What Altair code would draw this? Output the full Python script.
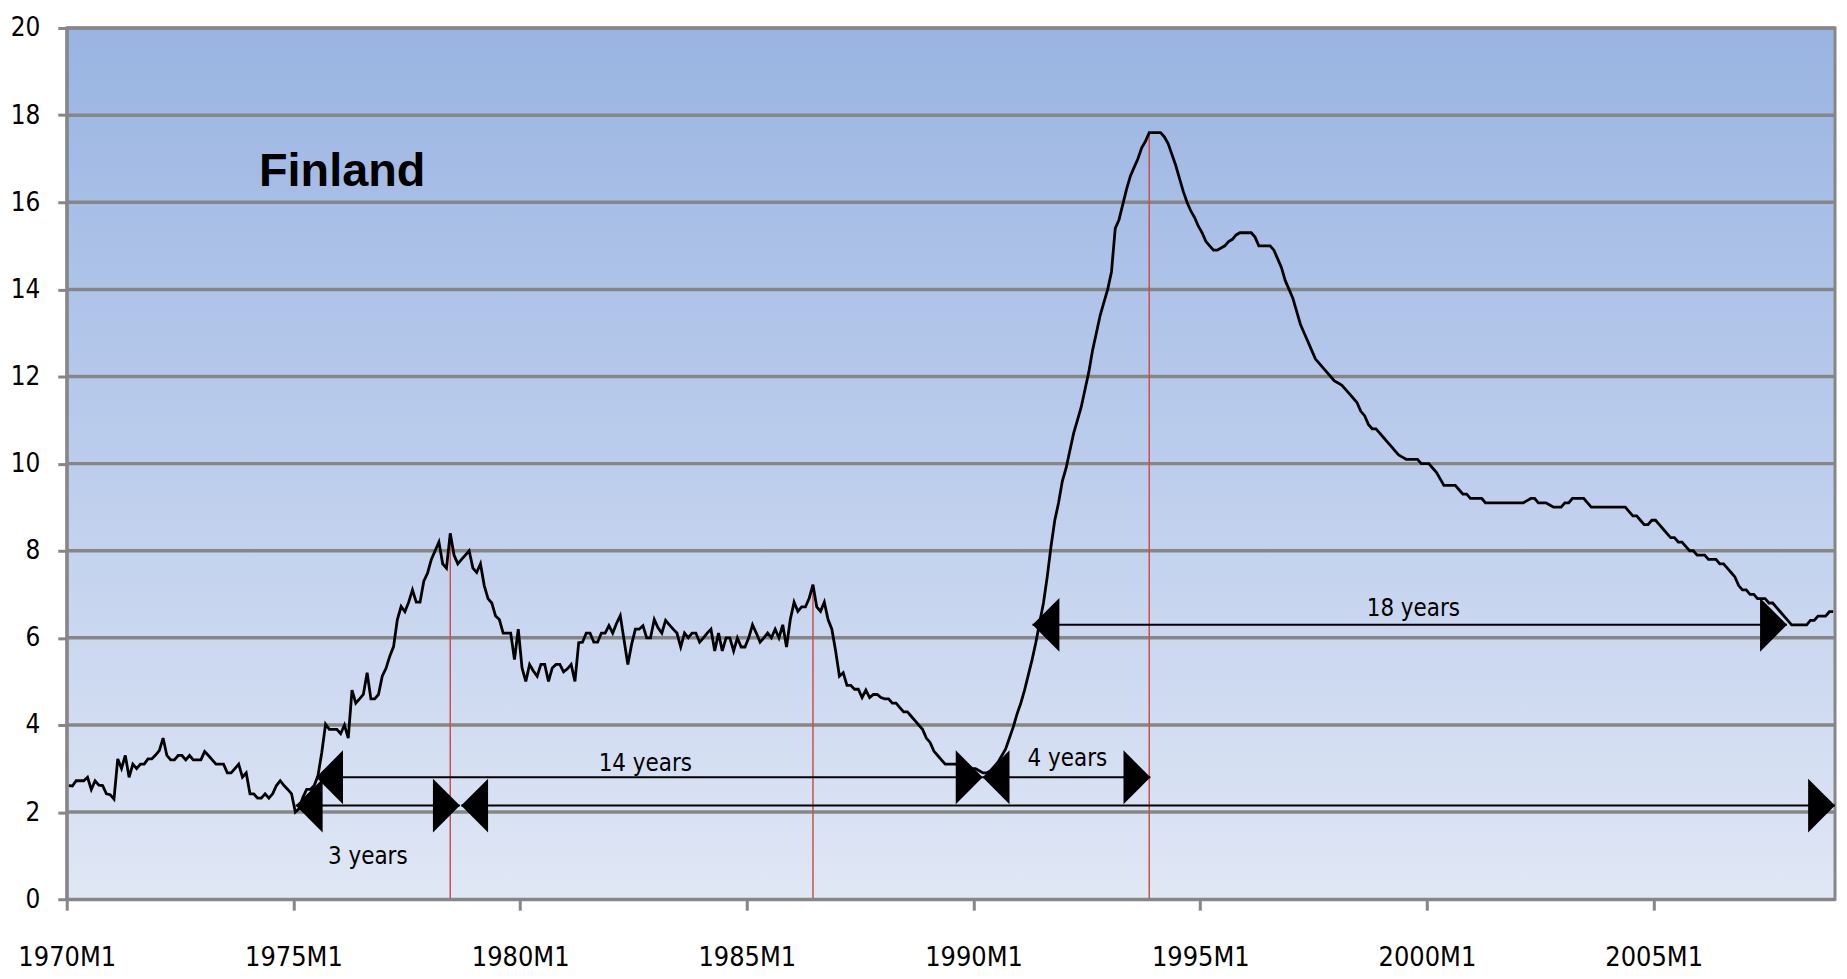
import altair as alt
import pandas as pd

# ---------------- data ----------------
rate_1970s = [
    2.61, 2.6, 2.72, 2.72, 2.72, 2.8, 2.52, 2.72, 2.62, 2.61, 2.42, 2.4,
    2.3, 3.22, 3.0, 3.3, 2.8, 3.1, 3.0, 3.1, 3.1, 3.22, 3.22, 3.31,
    3.41, 3.7, 3.3, 3.2, 3.2, 3.3, 3.3, 3.2, 3.3, 3.2, 3.2, 3.2,
    3.39, 3.3, 3.2, 3.1, 3.1, 3.1, 2.9, 2.9, 3.0, 3.1, 2.8, 2.9,
    2.42, 2.42, 2.32, 2.32, 2.42, 2.32, 2.42, 2.61, 2.72, 2.61, 2.52, 2.42,
    2.0, 2.08, 2.34, 2.52, 2.52, 2.61, 2.84, 3.37, 4.02, 3.9, 3.9, 3.9,
    3.8, 4.0, 3.7, 4.8, 4.5, 4.6, 4.7, 5.2, 4.6, 4.6, 4.7, 5.12,
    5.3, 5.58, 5.8, 6.42, 6.72, 6.6, 6.82, 7.1, 6.82, 6.82, 7.3, 7.49,
    7.8, 8.0, 8.2, 7.7, 7.6, 8.4, 7.9, 7.7, 7.8, 7.9, 8.0, 7.6,
    7.5, 7.7, 7.2, 6.9, 6.8, 6.5, 6.42, 6.11, 6.11, 6.11, 5.5, 6.2,
]
rate_1980s = [
    5.31, 5.0, 5.39, 5.24, 5.12, 5.39, 5.39, 5.0, 5.31, 5.39, 5.39, 5.22,
    5.29, 5.39, 5.0, 5.89, 5.9, 6.11, 6.11, 5.9, 5.9, 6.11, 6.11, 6.28,
    6.11, 6.33, 6.51, 5.95, 5.39, 5.85, 6.2, 6.2, 6.28, 6.0, 6.0, 6.42,
    6.23, 6.11, 6.4, 6.3, 6.2, 6.11, 5.79, 6.11, 6.0, 6.11, 6.11, 5.9,
    6.0, 6.11, 6.2, 5.7, 6.11, 5.7, 6.0, 6.0, 5.7, 6.0, 5.79, 5.79,
    6.0, 6.3, 6.11, 5.9, 6.0, 6.11, 6.0, 6.2, 6.0, 6.3, 5.79, 6.42,
    6.82, 6.61, 6.71, 6.71, 6.91, 7.22, 6.71, 6.61, 6.82, 6.42, 6.2, 5.7,
    5.12, 5.2, 4.91, 4.91, 4.82, 4.82, 4.63, 4.8, 4.63, 4.7, 4.7, 4.63,
    4.6, 4.6, 4.5, 4.5, 4.4, 4.3, 4.3, 4.2, 4.1, 4.0, 3.9, 3.7,
    3.6, 3.4, 3.3, 3.2, 3.1, 3.1, 3.1, 3.1, 3.1, 3.1, 3.05, 3.0,
]
rate_1990s = [
    3.0, 2.95, 2.9, 2.9, 2.95, 3.05, 3.15, 3.3, 3.45, 3.7, 3.95, 4.25,
    4.5, 4.8, 5.15, 5.5, 5.9, 6.35, 6.8, 7.4, 8.1, 8.7, 9.1, 9.6,
    9.9, 10.3, 10.7, 11.0, 11.3, 11.7, 12.1, 12.6, 13.0, 13.4, 13.7, 14.0,
    14.4, 15.4, 15.6, 15.95, 16.3, 16.6, 16.8, 17.0, 17.25, 17.4, 17.6, 17.6,
    17.6, 17.6, 17.5, 17.35, 17.1, 16.85, 16.55, 16.25, 16.0, 15.8, 15.65, 15.45,
    15.3, 15.1, 15.0, 14.9, 14.9, 14.95, 15.0, 15.1, 15.15, 15.25, 15.3, 15.3,
    15.3, 15.3, 15.2, 15.0, 15.0, 15.0, 15.0, 14.9, 14.7, 14.5, 14.2, 14.0,
    13.8, 13.5, 13.2, 13.0, 12.8, 12.6, 12.4, 12.3, 12.2, 12.1, 12.0, 11.9,
    11.85, 11.8, 11.7, 11.6, 11.5, 11.4, 11.2, 11.1, 10.9, 10.8, 10.8, 10.7,
    10.6, 10.5, 10.4, 10.3, 10.2, 10.15, 10.1, 10.1, 10.1, 10.1, 10.0, 10.0,
]
rate_2000s = [
    10.0, 9.9, 9.8, 9.65, 9.5, 9.5, 9.5, 9.5, 9.4, 9.3, 9.3, 9.2,
    9.2, 9.2, 9.2, 9.1, 9.1, 9.1, 9.1, 9.1, 9.1, 9.1, 9.1, 9.1,
    9.1, 9.1, 9.15, 9.2, 9.2, 9.1, 9.1, 9.1, 9.05, 9.0, 9.0, 9.0,
    9.1, 9.1, 9.2, 9.2, 9.2, 9.2, 9.1, 9.0, 9.0, 9.0, 9.0, 9.0,
    9.0, 9.0, 9.0, 9.0, 9.0, 8.9, 8.8, 8.8, 8.7, 8.6, 8.6, 8.7,
    8.7, 8.6, 8.5, 8.4, 8.3, 8.3, 8.2, 8.2, 8.1, 8.0, 8.0, 7.9,
    7.9, 7.9, 7.8, 7.8, 7.8, 7.7, 7.7, 7.6, 7.5, 7.4, 7.2, 7.1,
    7.1, 7.0, 7.0, 6.9, 6.9, 6.9, 6.8, 6.8, 6.7, 6.6, 6.5, 6.4,
    6.3, 6.3, 6.3, 6.3, 6.3, 6.4, 6.4, 6.5, 6.5, 6.5, 6.6, 6.6,
]

x_tick_years = [1970, 1975, 1980, 1985, 1990, 1995, 2000, 2005]
y_ticks = [0, 2, 4, 6, 8, 10, 12, 14, 16, 18, 20]

red_months = ["1978M6", "1986M6", "1993M11"]

arrow_start = [1975.05, 1978.70, 1975.50, 1990.20, 1991.30]
arrow_end = [1978.67, 2009.00, 1990.20, 1993.90, 2007.94]
arrow_y = [2.15, 2.15, 2.80, 2.80, 6.30]

label_text = ["3 years", "14 years", "4 years", "18 years"]
label_x = [1976.64, 1982.76, 1992.07, 1999.70]
label_y = [0.96, 3.10, 3.22, 6.67]

title_text = ["Finland"]
title_x = [1974.24]
title_y = [16.37]

# ---------------- tables ----------------
values = rate_1970s + rate_1980s + rate_1990s + rate_2000s
months = [f"{1970 + i // 12}M{i % 12 + 1}" for i in range(len(values))]
xs = [1970 + (i + 0.5) / 12 for i in range(len(values))]
series = pd.DataFrame({"month": months, "x": xs, "rate": values})
red = series[series["month"].isin(red_months)].assign(base=0.0)

arrows = pd.DataFrame({"start": arrow_start, "end": arrow_end, "y": arrow_y})
labels = pd.DataFrame({"t": label_text, "x": label_x, "y": label_y})
title_df = pd.DataFrame({"t": title_text, "x": title_x, "y": title_y})
grid_df = pd.DataFrame({"g": y_ticks[1:]})
bg_df = pd.DataFrame({"x0": [x_tick_years[0]], "x1": [2009], "y0": [y_ticks[0]], "y1": [y_ticks[-1]]})

# ---------------- chart ----------------
NARROW = "Liberation Sans Narrow, DejaVu Sans Condensed, sans-serif"
GRAY = "#868686"
XS = alt.Scale(domain=[1970, 2009], nice=False, zero=False)
YS = alt.Scale(domain=[0, 20], nice=False)

x_axis = alt.Axis(values=x_tick_years, labelExpr="datum.value + 'M1'", title=None, grid=False,
                  tickSize=11, tickWidth=3, tickColor=GRAY, domainColor=GRAY, domainWidth=3,
                  labelFont=NARROW, labelFontSize=27, labelColor="black", labelPadding=35,
                  labelFlush=False, labelOverlap=False, zindex=1)
y_axis = alt.Axis(values=y_ticks, title=None, grid=False, tickSize=9, tickWidth=3, tickColor=GRAY,
                  domainColor=GRAY, domainWidth=3, labelFont=NARROW, labelFontSize=26,
                  labelColor="black", labelPadding=18, labelOverlap=False, zindex=1)


def X(field):
    return alt.X(field, scale=XS, axis=x_axis)


def Y(field):
    return alt.Y(field, scale=YS, axis=y_axis)


grad = alt.LinearGradient(gradient="linear",
                          stops=[alt.GradientStop(color="#99B4E2", offset=0),
                                 alt.GradientStop(color="#BCCDEC", offset=0.5),
                                 alt.GradientStop(color="#E0E7F5", offset=1)],
                          x1=0, x2=0, y1=0, y2=1)

bg = alt.Chart(bg_df).mark_rect(fill=grad, stroke=GRAY, strokeWidth=3).encode(
    x=X("x0:Q"), x2="x1:Q", y=Y("y0:Q"), y2="y1:Q")

grid = alt.Chart(grid_df).mark_rule(color=GRAY, strokeWidth=3.5).encode(y=Y("g:Q"))

reds = alt.Chart(red).mark_rule(color="#C9504D", strokeWidth=1.5).encode(
    x=X("x:Q"), y=Y("base:Q"), y2="rate:Q")

line = alt.Chart(series).mark_line(color="black", strokeWidth=2.8).encode(
    x=X("x:Q"), y=Y("rate:Q"))

arrow_lines = alt.Chart(arrows).mark_rule(color="black", strokeWidth=2).encode(
    x=X("start:Q"), x2="end:Q", y=Y("y:Q"))

LEFT = "M 1 -1 L 0 0 L 1 1 Z"
RIGHT = "M -1 -1 L 0 0 L -1 1 Z"
heads_l = alt.Chart(arrows).mark_point(shape=LEFT, size=2916, filled=True, color="black",
                                       opacity=1, strokeWidth=0).encode(
    x=X("start:Q"), y=Y("y:Q"))
heads_r = alt.Chart(arrows).mark_point(shape=RIGHT, size=2916, filled=True, color="black",
                                       opacity=1, strokeWidth=0).encode(
    x=X("end:Q"), y=Y("y:Q"))

texts = alt.Chart(labels).mark_text(font=NARROW, fontSize=24, color="black",
                                    align="center", baseline="middle").encode(
    x=X("x:Q"), y=Y("y:Q"), text="t:N")

title = alt.Chart(title_df).mark_text(font="Liberation Sans, Arial, sans-serif", fontWeight="bold",
                                      fontSize=47, color="black", align="left",
                                      baseline="alphabetic").encode(
    x=X("x:Q"), y=Y("y:Q"), text="t:N")

chart = alt.layer(bg, grid, reds, line, arrow_lines, heads_l, heads_r, texts, title).properties(
    width=1776, height=875, autosize="none",
    padding={"left": 59, "top": 18, "right": 4, "bottom": 76},
    background="white",
).configure_view(stroke=None)

chart.save("out.html", embed_options={"renderer": "svg", "actions": False})
